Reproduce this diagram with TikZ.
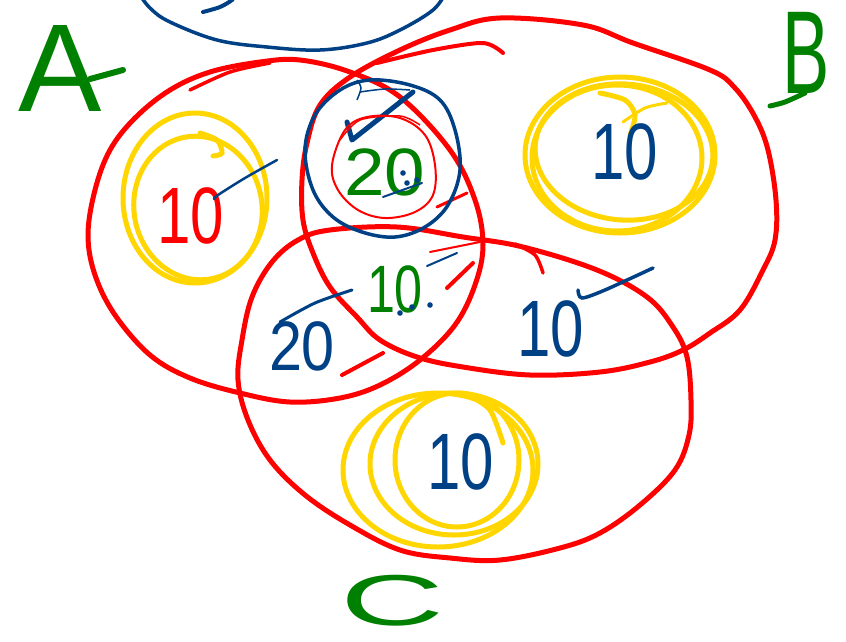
\documentclass[tikz,border=0pt]{standalone}
\usepackage{fontspec}
\setmainfont{Liberation Sans}
\definecolor{hred}{RGB}{255,0,0}
\definecolor{hyel}{RGB}{255,214,0}
\definecolor{hblue}{RGB}{0,64,133}
\definecolor{hgreen}{RGB}{0,128,0}
\begin{document}
\begin{tikzpicture}[x=1pt,y=-1pt,
  redc/.style={draw=hred, line width=5pt, line cap=round, line join=round},
  redstroke/.style={draw=hred, line width=3.5pt, line cap=round},
  yelc/.style={draw=hyel, line width=5pt, line cap=round},
  bluec/.style={draw=hblue, line width=3.5pt, line cap=round, line join=round},
  bluestroke/.style={draw=hblue, line width=3pt, line cap=round},
  bluedot/.style={fill=hblue},
  numtxt/.style={inner sep=0pt, xscale=0.75, font=\fontsize{80}{80}\selectfont},
  lettxt/.style={inner sep=0pt, text=hgreen, font=\fontsize{118}{118}\selectfont}]
\useasboundingbox (0,0) rectangle (846,641);
\fill[white] (0,0) rectangle (846,641);

% top blue ellipse (cut off)
\draw[bluec] plot[smooth, tension=0.6] coordinates {(138,-8) (150,8) (170,22) (217,40) (267,47) (320,50) (367,43) (400,30) (433,10) (446,-8)};
\draw[bluestroke, line width=4pt] plot[smooth] coordinates {(203,12) (220,7) (232,0) (236,-6)};

% red circle A
\draw[redc] plot[smooth cycle, tension=0.6] coordinates {(300,60) (350,72) (400,97) (450,150) (475,200) (483,245) (475,285) (455,325) (420,360) (380,385) (340,398) (290,402) (240,393) (190,378) (150,355) (115,315) (95,275) (88,235) (95,190) (110,150) (135,118) (170,90) (210,72) (260,62)};
\draw[redstroke] plot[smooth] coordinates {(190,90) (230,72) (270,63)};

% red circle B
\draw[redc] plot[smooth cycle, tension=0.6] coordinates {(500,18) (583,25) (633,43) (710,70) (735,88) (755,117) (768,150) (776,200) (775,240) (763,270) (740,310) (710,333) (683,350) (650,362) (600,372) (530,375) (463,367) (417,357) (380,340) (357,317) (330,287) (313,253) (303,220) (302,180) (307,143) (320,105) (350,77) (400,50) (450,30)};
\draw[redstroke, line width=4pt] plot[smooth] coordinates {(377,63) (433,50) (483,43) (503,53)};

% red circle C
\draw[redc] plot[smooth cycle, tension=0.6] coordinates {(330,230) (397,227) (463,237) (523,247) (597,270) (647,297) (673,327) (687,357) (691,400) (689,435) (675,470) (640,505) (600,533) (560,548) (500,560) (450,558) (400,550) (350,525) (305,495) (270,460) (248,420) (238,380) (242,340) (252,297) (272,262) (298,240)};
\draw[redstroke] plot[smooth] coordinates {(515,244) (535,255) (543,273)};
\draw[redstroke, line width=2pt] (430,252) -- (480,242);

% small red strokes
\draw[redstroke, line width=4pt] (342,375) -- (383,353);
\draw[redstroke, line width=4pt] (447,288) -- (473,263);
\draw[redstroke, line width=3pt] (437,207) -- (467,193);

% yellow rings
\draw[yelc] (195,198) ellipse [x radius=72, y radius=85];
\draw[yelc, rotate around={10:(198,208)}] (198,208) ellipse [x radius=64, y radius=72];
\draw[yelc] plot[smooth] coordinates {(200,133) (217,140) (222,153) (213,156)};

\draw[yelc] (620,155) ellipse [x radius=95, y radius=78];
\draw[yelc] (617,158) ellipse [x radius=85, y radius=73];
\draw[yelc, rotate around={-5:(624,152)}] (624,152) ellipse [x radius=89, y radius=68];
\draw[yelc] plot[smooth] coordinates {(600,93) (625,100) (635,115) (630,135)};
\draw[yelc, line width=3pt] plot[smooth] coordinates {(623,122) (645,108) (667,103)};

\draw[yelc] (438,470) ellipse [x radius=95, y radius=77];
\draw[yelc] (454,464) ellipse [x radius=84, y radius=71];
\draw[yelc] (457,460) ellipse [x radius=62, y radius=67];
\draw[yelc] plot[smooth] coordinates {(468,395) (490,410) (503,443)};

% blue circle around 20
\draw[bluec] plot[smooth cycle, tension=0.6] coordinates {(305,150) (315,115) (340,90) (370,80) (410,85) (440,100) (455,130) (460,170) (448,205) (425,227) (395,237) (362,232) (333,217) (313,190)};
\draw[draw=hblue, line width=1.5pt] plot[smooth] coordinates {(357,100) (361,88) (357,80)};
\draw[draw=hblue, line width=1.5pt] plot[smooth] coordinates {(360,92) (385,89) (410,90)};
\draw[bluec, line width=5pt] (347,122) -- (352,140) -- (413,92);

% red inner circle
\draw[draw=hred, line width=2pt] plot[smooth cycle, tension=0.6] coordinates {(332,165) (345,130) (367,117) (400,118) (425,135) (435,165) (433,195) (415,212) (385,218) (358,210) (338,190)};
\draw[draw=hred, line width=1.5pt] plot[smooth] coordinates {(340,140) (360,120) (400,116) (420,125)};

% numbers
\node[numtxt, text=hred] (n1) at (191,216) {10};
\node[numtxt, text=hblue] (n2) at (625,152) {10};
\node[numtxt, text=hgreen, xscale=1.45, font=\fontsize{67}{67}\selectfont] (n3) at (385,172) {20};
\node[numtxt, text=hgreen, font=\fontsize{67}{67}\selectfont] (n4) at (395,289) {10};
\node[numtxt, text=hblue, xscale=1.13, font=\fontsize{70}{70}\selectfont] (n5) at (302,346) {20};
\node[numtxt, text=hblue] (n6) at (551,329) {10};
\node[numtxt, text=hblue] (n7) at (461,462) {10};

% blue ticks and dots
\draw[bluestroke, line width=2.5pt] plot[smooth] coordinates {(214,199) (218,195) (245,178) (277,160)};
\draw[bluestroke] plot[smooth] coordinates {(280,322) (315,303) (352,290)};
\draw[bluestroke, line width=2pt] (427,266) -- (457,253);
\draw[bluestroke, line width=3.5pt] plot[smooth] coordinates {(578,290) (582,298) (605,290) (653,268)};
\draw[bluestroke, line width=2pt] (383,197) -- (422,183);
\foreach \p in {(403,173),(407,183),(417,180),(400,313),(412,307),(430,305)}
  \fill[bluedot] \p circle [radius=2.8];

% letters
\node[lettxt, font=\fontsize{125}{125}\selectfont] (lA) at (60,68) {A};
\draw[draw=hgreen, line width=6pt, line cap=round] (90,79) -- (123,70);
\node[lettxt, xscale=0.6] (lB) at (806,53) {B};
\draw[draw=hgreen, line width=5pt, line cap=round] plot[smooth] coordinates {(805,93) (785,102) (770,106)};
\node[lettxt, xscale=2, font=\fontsize{72}{72}\selectfont] (lC) at (392,601) {C};
\end{tikzpicture}
\end{document}
